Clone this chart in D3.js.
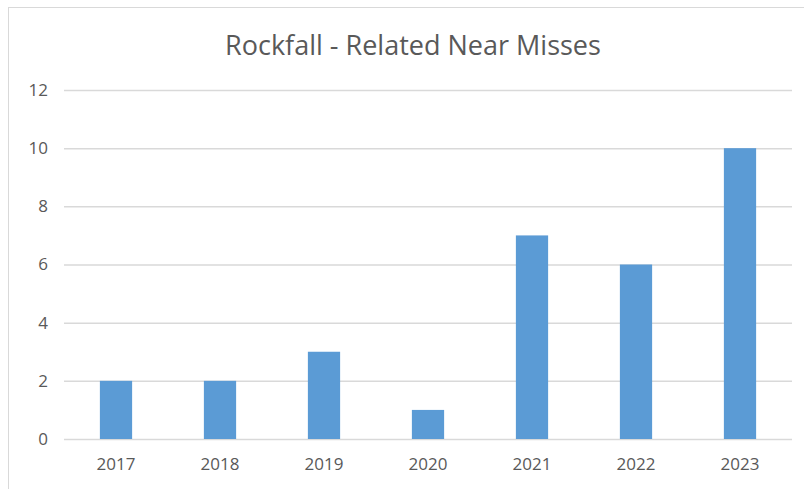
<!DOCTYPE html>
<html><head><meta charset="utf-8">
<script src="https://cdn.jsdelivr.net/npm/d3@7"></script>
<style>body{margin:0;background:#fff}svg{display:block}</style>
</head><body><svg id="c" width="804" height="489"></svg>
<script>
const years = ["2017","2018","2019","2020","2021","2022","2023"];
const nearMisses = [2,2,3,1,7,6,10];
const yTicks = [0,2,4,6,8,10,12];
const title = "Rockfall - Related Near Misses";

const svg = d3.select("#c");
const font = "'Open Sans', 'Liberation Sans', sans-serif";
svg.append("rect").attr("x",8.5).attr("y",7.5).attr("width",820).attr("height",520)
  .attr("fill","#fff").attr("stroke","#d9d9d9");

const x = d3.scaleBand().domain(years).range([64,792]).paddingInner(0.69).paddingOuter(0.345);
const y = d3.scaleLinear().domain([0,12]).range([439,90]);

const yAxis = svg.append("g").attr("transform","translate(64,0)")
  .call(d3.axisLeft(y).tickValues(yTicks).tickSize(-728).tickPadding(16));
yAxis.select(".domain").remove();
yAxis.selectAll("line").attr("stroke","#d9d9d9").attr("stroke-width",1.5);
yAxis.selectAll("text").attr("fill","#595959").style("font-family",font).style("font-size","17px");

svg.append("g").selectAll("rect").data(years).join("rect")
  .attr("x",d=>x(d)).attr("width",x.bandwidth())
  .attr("y",(d,i)=>y(nearMisses[i])).attr("height",(d,i)=>y(0)-y(nearMisses[i]))
  .attr("fill","#5b9bd5");

const xAxis = svg.append("g").attr("transform","translate(0,439)")
  .call(d3.axisBottom(x).tickSize(0).tickPadding(19));
xAxis.select(".domain").remove();
xAxis.selectAll("text").attr("fill","#595959").style("font-family",font).style("font-size","17px");

svg.append("text").attr("x",413).attr("y",55).attr("text-anchor","middle")
  .attr("fill","#595959").style("font-family",font).style("font-size","27px").text(title);
</script></body></html>
